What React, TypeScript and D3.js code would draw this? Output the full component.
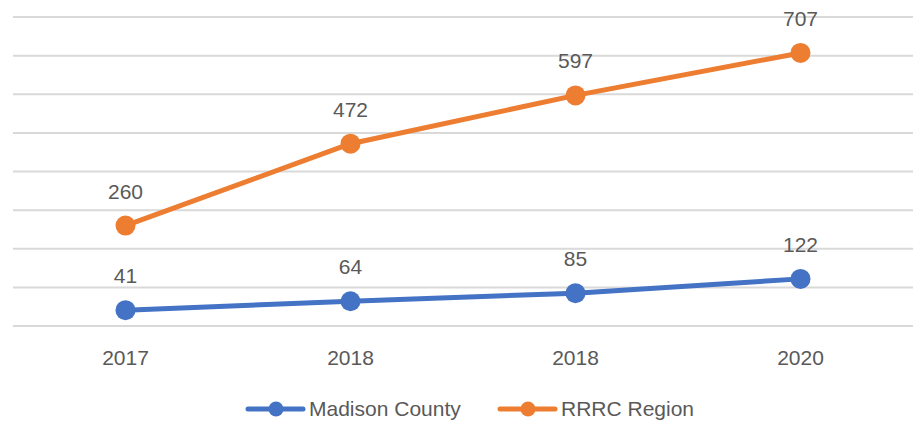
import React from "react";
import * as d3 from "d3";

const categories = ["2017", "2018", "2018", "2020"];
const madison = [41, 64, 85, 122];
const rrrc = [260, 472, 597, 707];
const gridTicks = [0, 100, 200, 300, 400, 500, 600, 700, 800];
const seriesNames = ["Madison County", "RRRC Region"];
const colors = ["#4472C4", "#ED7D31"];

export default function App() {
  const W = 913, H = 421;
  const left = 13, right = 913, top = 17, bottom = 326;
  const x = d3.scaleBand<number>().domain(categories.map((_, i) => i)).range([left, right]);
  const y = d3.scaleLinear().domain([0, 800]).range([bottom, top]);
  const cx = (i: number) => (x(i) as number) + x.bandwidth() / 2;
  const line = d3.line<number>().x((_, i) => cx(i)).y((d) => y(d));
  const font = "'Liberation Sans', Arial, sans-serif";
  const series = [madison, rrrc];
  const legendItems = [
    { lx: 248, tx: 309 },
    { lx: 500, tx: 561 },
  ];
  return (
    <svg width={W} height={H} style={{ position: "absolute", left: 0, top: 0, background: "#fff" }}>
      {gridTicks.map((t) => (
        <line key={t} x1={left} x2={right} y1={y(t)} y2={y(t)} stroke="#d9d9d9" strokeWidth={2} />
      ))}
      {categories.map((c, i) => (
        <text key={i} x={cx(i)} y={365} textAnchor="middle" fontFamily={font} fontSize={21} fill="#595959">
          {c}
        </text>
      ))}
      {series.map((s, si) => (
        <g key={si}>
          <path d={line(s) || ""} fill="none" stroke={colors[si]} strokeWidth={5} strokeLinejoin="round" strokeLinecap="round" />
          {s.map((v, i) => (
            <circle key={i} cx={cx(i)} cy={y(v)} r={10} fill={colors[si]} />
          ))}
          {s.map((v, i) => (
            <text key={"t" + i} x={cx(i)} y={y(v) - 27} textAnchor="middle" fontFamily={font} fontSize={21} fill="#595959">
              {v}
            </text>
          ))}
        </g>
      ))}
      {legendItems.map((l, i) => (
        <g key={i}>
          <line x1={l.lx} x2={l.lx + 55} y1={409} y2={409} stroke={colors[i]} strokeWidth={5} strokeLinecap="round" />
          <circle cx={l.lx + 28} cy={409} r={7.5} fill={colors[i]} />
          <text x={l.tx} y={416} fontFamily={font} fontSize={21} fill="#595959">
            {seriesNames[i]}
          </text>
        </g>
      ))}
    </svg>
  );
}
